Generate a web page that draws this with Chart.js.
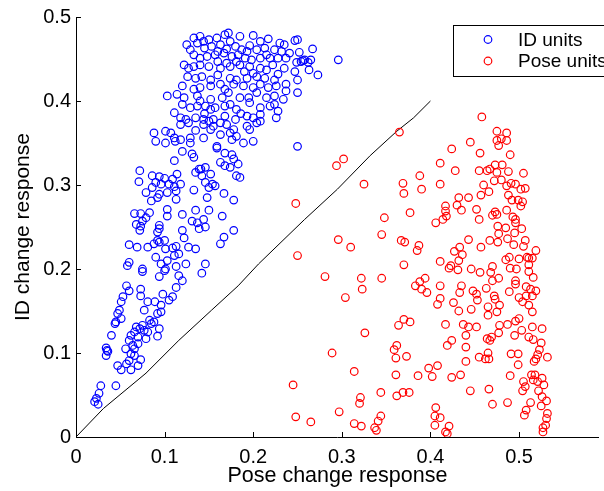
<!DOCTYPE html>
<html>
<head>
<meta charset="utf-8">
<script src="https://cdn.jsdelivr.net/npm/chart.js@4/dist/chart.umd.min.js"></script>
<style>
  body { margin: 0; background: #fff; }
  #wrap { width: 604px; height: 491px; }
</style>
</head>
<body>
<div id="wrap"><canvas id="chart" width="604" height="491"></canvas></div>
<script>
// tick positions on both axes
const xTicks = [0, 0.1, 0.2, 0.3, 0.4, 0.5];
const yTicks = [0, 0.1, 0.2, 0.3, 0.4, 0.5];

// ID units: [pose change, ID change]
const idUnits = [
  [0.133,0.475],[0.140,0.477],[0.150,0.473],[0.159,0.475],[0.168,0.479],[0.172,0.481],[0.185,0.477],[0.200,0.478],[0.208,0.471],[0.217,0.474],[0.230,0.469],[0.235,0.467],[0.247,0.472],[0.267,0.462],
  [0.125,0.467],[0.129,0.461],[0.137,0.469],[0.144,0.471],[0.153,0.465],[0.163,0.467],[0.174,0.471],[0.180,0.465],[0.187,0.461],[0.193,0.459],[0.204,0.461],[0.213,0.463],[0.224,0.461],[0.232,0.459],[0.241,0.457],[0.252,0.458],[0.258,0.449],[0.265,0.449],[0.254,0.447],
  [0.133,0.455],[0.140,0.451],[0.148,0.453],[0.157,0.455],[0.167,0.457],[0.176,0.453],[0.181,0.447],[0.191,0.451],[0.198,0.449],[0.208,0.451],[0.219,0.451],[0.237,0.451],[0.249,0.446],[0.263,0.437],[0.273,0.431],
  [0.122,0.443],[0.127,0.439],[0.133,0.441],[0.140,0.443],[0.150,0.441],[0.163,0.439],[0.174,0.441],[0.185,0.443],[0.196,0.441],[0.208,0.439],[0.215,0.437],[0.222,0.443],[0.235,0.439],[0.247,0.435],[0.250,0.425],
  [0.126,0.429],[0.135,0.427],[0.142,0.429],[0.152,0.425],[0.174,0.427],[0.181,0.425],[0.193,0.427],[0.204,0.429],[0.213,0.427],[0.224,0.425],[0.237,0.420],
  [0.120,0.418],[0.133,0.414],[0.140,0.416],[0.152,0.418],[0.163,0.420],[0.168,0.414],[0.178,0.420],[0.189,0.418],[0.200,0.416],[0.208,0.420],[0.217,0.416],[0.226,0.418],[0.237,0.412],[0.250,0.410],
  [0.103,0.406],[0.114,0.408],[0.122,0.404],[0.137,0.406],[0.140,0.400],[0.152,0.402],[0.165,0.404],[0.172,0.410],[0.185,0.404],[0.195,0.404],[0.204,0.410],[0.215,0.404],[0.224,0.406],[0.234,0.402],
  [0.120,0.396],[0.129,0.392],[0.137,0.394],[0.146,0.394],[0.152,0.390],[0.157,0.392],[0.168,0.394],[0.174,0.396],[0.181,0.390],[0.196,0.398],[0.208,0.392],[0.219,0.394],[0.224,0.396],
  [0.111,0.386],[0.118,0.380],[0.124,0.378],[0.135,0.380],[0.144,0.378],[0.150,0.376],[0.155,0.378],[0.168,0.382],[0.180,0.378],[0.193,0.382],[0.200,0.380],[0.208,0.384],[0.208,0.376],[0.226,0.380],[0.228,0.388],
  [0.118,0.372],[0.127,0.374],[0.144,0.372],[0.155,0.370],[0.163,0.374],[0.170,0.372],[0.178,0.366],[0.193,0.370],[0.196,0.366],[0.204,0.374],
  [0.088,0.362],[0.101,0.364],[0.107,0.362],[0.111,0.356],[0.118,0.354],[0.129,0.356],[0.144,0.356],[0.152,0.366],[0.174,0.362],[0.181,0.358],[0.176,0.354],
  [0.090,0.352],[0.101,0.350],[0.112,0.352],[0.129,0.350],[0.159,0.346],[0.189,0.350],[0.200,0.352],[0.250,0.346],
  [0.250,0.473],[0.256,0.448],[0.262,0.446],[0.296,0.449],
  [0.145,0.463],[0.160,0.459],[0.170,0.462],[0.183,0.455],[0.196,0.466],[0.215,0.455],[0.228,0.451],[0.160,0.447],[0.170,0.445],[0.190,0.435],[0.200,0.433],[0.160,0.431],[0.228,0.432],[0.145,0.385],[0.186,0.385],[0.163,0.360],[0.135,0.365],
  [0.120,0.340],[0.131,0.337],[0.133,0.333],[0.111,0.329],
  [0.159,0.344],[0.168,0.338],[0.176,0.336],[0.178,0.331],[0.163,0.327],[0.168,0.323],[0.183,0.325],[0.174,0.321],
  [0.135,0.315],[0.141,0.319],[0.146,0.321],[0.152,0.313],[0.142,0.311],[0.139,0.319],
  [0.072,0.317],[0.071,0.304],[0.086,0.311],[0.094,0.310],[0.100,0.308],[0.109,0.307],[0.114,0.313],[0.090,0.303],[0.096,0.301],[0.105,0.301],[0.111,0.298],[0.118,0.301],
  [0.079,0.291],[0.086,0.297],[0.094,0.289],[0.103,0.291],[0.113,0.293],[0.085,0.281],[0.092,0.285],[0.113,0.283],[0.133,0.294],[0.146,0.303],[0.154,0.301],[0.157,0.299],[0.150,0.297],[0.167,0.290],[0.178,0.282],[0.148,0.285],[0.181,0.311],[0.185,0.309],
  [0.066,0.266],[0.073,0.266],[0.083,0.267],[0.079,0.261],[0.075,0.257],[0.068,0.253],[0.073,0.251],[0.072,0.246],[0.103,0.271],[0.103,0.263],[0.120,0.265],[0.135,0.270],[0.150,0.270],[0.165,0.263],[0.131,0.257],[0.137,0.255],[0.144,0.259],[0.146,0.250],[0.139,0.248],[0.094,0.252],[0.094,0.248],[0.092,0.244],[0.120,0.246],[0.122,0.237],[0.178,0.246],[0.167,0.238],[0.163,0.230],
  [0.060,0.229],[0.069,0.226],[0.081,0.226],[0.088,0.230],[0.092,0.234],[0.094,0.232],[0.100,0.234],[0.101,0.224],[0.109,0.225],[0.113,0.227],[0.116,0.218],[0.111,0.216],[0.127,0.226],[0.135,0.224],[0.090,0.214],[0.103,0.210],[0.096,0.206],[0.113,0.203],[0.124,0.206],[0.146,0.206],[0.060,0.208],[0.058,0.204],[0.075,0.200],[0.101,0.200],
  [0.075,0.197],[0.094,0.191],[0.100,0.198],[0.116,0.192],[0.120,0.186],[0.142,0.195],[0.113,0.178],
  [0.057,0.180],[0.060,0.174],[0.053,0.167],[0.051,0.161],[0.049,0.151],[0.047,0.147],[0.045,0.137],[0.051,0.141],[0.044,0.135],
  [0.073,0.176],[0.073,0.168],[0.081,0.161],[0.089,0.161],[0.098,0.170],[0.105,0.163],[0.109,0.167],[0.096,0.149],[0.092,0.147],[0.077,0.151],[0.088,0.137],[0.083,0.139],[0.096,0.157],
  [0.068,0.131],[0.072,0.129],[0.075,0.133],[0.077,0.127],[0.081,0.125],[0.085,0.135],[0.094,0.129],[0.092,0.120],[0.079,0.117],[0.070,0.119],[0.066,0.125],[0.062,0.121],[0.060,0.115],[0.064,0.109],[0.070,0.111],
  [0.040,0.121],[0.034,0.106],[0.036,0.102],[0.034,0.097],[0.035,0.103],
  [0.056,0.105],[0.062,0.099],[0.066,0.105],[0.073,0.092],[0.060,0.091],[0.057,0.087],[0.047,0.085],[0.051,0.080],[0.062,0.080],[0.070,0.085],[0.066,0.097],
  [0.028,0.061],[0.045,0.061],[0.023,0.046],[0.021,0.042],[0.025,0.039],[0.026,0.052]
];

// Pose units: [pose change, ID change]
const poseUnits = [
  [0.248,0.278],[0.250,0.216],[0.245,0.062],[0.248,0.024],[0.265,0.018],
  [0.365,0.363],[0.302,0.331],[0.294,0.323],[0.325,0.301],
  [0.388,0.311],[0.369,0.302],[0.370,0.290],[0.390,0.295],[0.411,0.326],[0.411,0.301],[0.424,0.343],[0.428,0.317],[0.445,0.351],[0.458,0.381],[0.456,0.338],
  [0.475,0.364],[0.486,0.362],[0.475,0.353],[0.480,0.355],[0.486,0.353],[0.477,0.347],[0.490,0.336],
  [0.455,0.317],[0.464,0.317],[0.467,0.319],[0.473,0.324],[0.481,0.324],[0.475,0.315],[0.472,0.305],[0.480,0.306],[0.488,0.316],[0.505,0.314],
  [0.460,0.300],[0.466,0.292],[0.457,0.288],[0.443,0.285],[0.432,0.285],[0.486,0.299],[0.491,0.302],[0.496,0.301],[0.502,0.295],[0.507,0.296],[0.488,0.288],[0.492,0.282],[0.499,0.282],[0.504,0.280],[0.502,0.275],
  [0.417,0.275],[0.430,0.276],[0.435,0.270],[0.452,0.271],[0.417,0.269],[0.418,0.263],[0.377,0.267],[0.348,0.261],[0.473,0.268],[0.475,0.265],[0.470,0.264],[0.486,0.270],[0.493,0.262],[0.496,0.259],[0.455,0.259],[0.414,0.259],
  [0.406,0.255],
  [0.476,0.251],[0.485,0.249],[0.477,0.242],[0.487,0.236],[0.495,0.243],[0.503,0.248],[0.496,0.255],[0.494,0.229],[0.505,0.227],[0.507,0.234],[0.476,0.232],[0.467,0.234],[0.457,0.226],[0.443,0.235],[0.433,0.226],[0.427,0.221],[0.436,0.217],[0.432,0.210],[0.421,0.201],[0.423,0.204],[0.431,0.199],[0.411,0.209],[0.446,0.200],[0.456,0.196],[0.470,0.203],[0.468,0.196],[0.470,0.186],[0.477,0.189],
  [0.519,0.222],[0.511,0.213],[0.515,0.213],[0.509,0.214],[0.500,0.212],[0.489,0.214],[0.485,0.211],[0.497,0.200],[0.490,0.201],[0.511,0.205],[0.511,0.197],[0.516,0.190],[0.496,0.186],[0.496,0.182],[0.508,0.179],[0.513,0.176],[0.519,0.174],[0.515,0.168],[0.508,0.168],[0.500,0.166],[0.504,0.161],[0.511,0.157],[0.515,0.149],[0.489,0.173],[0.472,0.168],[0.473,0.164],
  [0.296,0.235],[0.310,0.226],[0.345,0.241],[0.367,0.234],[0.371,0.232],[0.387,0.228],[0.385,0.222],[0.370,0.205],[0.281,0.191],[0.322,0.189],[0.345,0.189],[0.323,0.176],[0.304,0.166],
  [0.383,0.180],[0.388,0.185],[0.394,0.189],[0.390,0.176],[0.396,0.172],[0.411,0.180],[0.411,0.165],[0.408,0.158],[0.426,0.160],[0.433,0.172],[0.435,0.180],[0.432,0.150],[0.446,0.152],[0.448,0.174],[0.452,0.170],[0.453,0.163],[0.463,0.177],[0.465,0.155],[0.465,0.145],[0.475,0.149],[0.478,0.157],
  [0.370,0.140],[0.377,0.137],[0.364,0.133],[0.417,0.134],[0.437,0.134],[0.443,0.131],[0.452,0.131],[0.478,0.133],[0.487,0.134],[0.496,0.138],[0.500,0.141],[0.515,0.131],[0.526,0.129],
  [0.326,0.124],[0.289,0.100],[0.297,0.030],[0.314,0.078],[0.321,0.047],[0.320,0.040],[0.314,0.016],[0.322,0.013],[0.337,0.011],[0.339,0.008],[0.341,0.019],[0.344,0.025],[0.344,0.053],
  [0.362,0.109],[0.359,0.104],[0.361,0.094],[0.373,0.096],[0.361,0.074],[0.362,0.049],[0.369,0.053],[0.376,0.053],[0.386,0.073],[0.398,0.082],[0.402,0.072],[0.408,0.085],[0.424,0.071],[0.434,0.074],[0.424,0.115],[0.419,0.109],[0.440,0.121],[0.440,0.107],[0.440,0.090],[0.455,0.095],[0.462,0.093],[0.465,0.100],[0.466,0.093],[0.464,0.117],[0.469,0.119],[0.477,0.124],[0.467,0.115],[0.445,0.055],[0.466,0.057],[0.470,0.039],[0.487,0.041],
  [0.406,0.035],[0.405,0.025],[0.411,0.023],[0.405,0.014],[0.421,0.013],[0.417,0.006],[0.419,0.004],
  [0.495,0.121],[0.503,0.127],[0.511,0.119],[0.516,0.116],[0.525,0.112],[0.523,0.104],[0.521,0.098],[0.519,0.093],[0.517,0.090],[0.532,0.095],[0.499,0.086],[0.491,0.099],[0.499,0.099],[0.490,0.073],[0.514,0.074],[0.518,0.074],[0.526,0.070],[0.516,0.068],[0.521,0.066],[0.528,0.062],[0.522,0.055],[0.507,0.060],[0.504,0.055],[0.505,0.066],[0.526,0.048],[0.531,0.043],[0.525,0.037],[0.513,0.041],[0.508,0.032],[0.506,0.026],[0.532,0.028],[0.531,0.022],[0.530,0.014],[0.527,0.011],[0.527,0.006]
];

// the black boundary line
const boundaryX = [0, 0.031, 0.079, 0.116, 0.153, 0.183, 0.206, 0.258, 0.295, 0.332, 0.362, 0.381, 0.400];
const boundaryY = [0, 0.034, 0.076, 0.115, 0.151, 0.180, 0.206, 0.259, 0.295, 0.335, 0.364, 0.380, 0.400];

const toPoints = arr => arr.map(p => ({ x: p[0], y: p[1] }));
const boundary = boundaryX.map((x, i) => ({ x: x, y: boundaryY[i] }));

const FONT = "'Liberation Sans', Arial, Helvetica, sans-serif";
Chart.defaults.font.family = FONT;
Chart.defaults.color = '#000';

// MATLAB style ticks pointing into the plot
const inwardTicks = {
  id: 'inwardTicks',
  afterDraw(chart) {
    const ctx = chart.ctx;
    const xs = chart.scales.x, ys = chart.scales.y;
    const a = chart.chartArea;
    ctx.save();
    ctx.strokeStyle = '#000';
    ctx.lineWidth = 1;
    ctx.beginPath();
    xTicks.forEach(v => {
      const px = Math.round(xs.getPixelForValue(v)) + 0.5;
      ctx.moveTo(px, a.bottom);
      ctx.lineTo(px, a.bottom - 5);
    });
    yTicks.forEach(v => {
      const py = Math.round(ys.getPixelForValue(v)) + 0.5;
      ctx.moveTo(a.left, py);
      ctx.lineTo(a.left + 5, py);
    });
    ctx.stroke();
    ctx.restore();
  }
};

// boxed legend in the upper right corner
const boxLegend = {
  id: 'boxLegend',
  afterDraw(chart) {
    const ctx = chart.ctx;
    const sets = chart.data.datasets.filter(d => d.inLegend);
    ctx.save();
    ctx.fillStyle = '#fff';
    ctx.fillRect(453, 25, 160, 51);
    ctx.strokeStyle = '#000';
    ctx.lineWidth = 1;
    ctx.strokeRect(453.5, 25.5, 160, 51);
    ctx.font = '19px ' + FONT;
    ctx.textBaseline = 'middle';
    sets.forEach((d, i) => {
      const y = 39.5 + i * 21.5;
      ctx.beginPath();
      ctx.strokeStyle = d.borderColor;
      ctx.lineWidth = d.borderWidth;
      ctx.arc(488, y, 3.8, 0, Math.PI * 2);
      ctx.stroke();
      ctx.fillStyle = '#000';
      ctx.fillText(d.label, 518, y + 1);
    });
    ctx.restore();
  }
};

new Chart(document.getElementById('chart'), {
  type: 'scatter',
  data: {
    datasets: [
      {
        label: 'ID units',
        inLegend: true,
        data: toPoints(idUnits),
        borderColor: '#0000ff',
        backgroundColor: 'rgba(0,0,0,0)',
        borderWidth: 1.2,
        pointRadius: 3.8
      },
      {
        label: 'Pose units',
        inLegend: true,
        data: toPoints(poseUnits),
        borderColor: '#ff0000',
        backgroundColor: 'rgba(0,0,0,0)',
        borderWidth: 1.2,
        pointRadius: 3.8
      },
      {
        label: 'boundary',
        inLegend: false,
        data: boundary,
        showLine: true,
        borderColor: '#000',
        borderWidth: 1,
        pointRadius: 0
      }
    ]
  },
  options: {
    responsive: false,
    animation: false,
    events: [],
    layout: { padding: { top: 16, right: 0, left: 0, bottom: 0 } },
    plugins: {
      legend: { display: false },
      tooltip: { enabled: false }
    },
    scales: {
      x: {
        type: 'linear',
        min: 0,
        max: 0.59,
        afterBuildTicks: s => { s.ticks = xTicks.map(v => ({ value: v })); },
        afterFit: s => { s.height = 54; },
        grid: { drawOnChartArea: false, drawTicks: false },
        border: { color: '#000', width: 1 },
        ticks: {
          padding: 8,
          font: { size: 20 },
          callback: v => v === 0 ? '0' : v.toFixed(1)
        },
        title: {
          display: true,
          text: 'Pose change response',
          font: { size: 21.5 },
          padding: { top: 0, bottom: 2 }
        }
      },
      y: {
        type: 'linear',
        min: 0,
        max: 0.5,
        afterBuildTicks: s => { s.ticks = yTicks.map(v => ({ value: v })); },
        afterFit: s => { s.width = 76; },
        grid: { drawOnChartArea: false, drawTicks: false },
        border: { color: '#000', width: 1 },
        ticks: {
          padding: 5,
          font: { size: 20 },
          callback: v => v === 0 ? '0' : v.toFixed(1)
        },
        title: {
          display: true,
          text: 'ID change response',
          font: { size: 21 },
          padding: { top: 11, bottom: 0 }
        }
      }
    }
  },
  plugins: [inwardTicks, boxLegend]
});
</script>
</body>
</html>
